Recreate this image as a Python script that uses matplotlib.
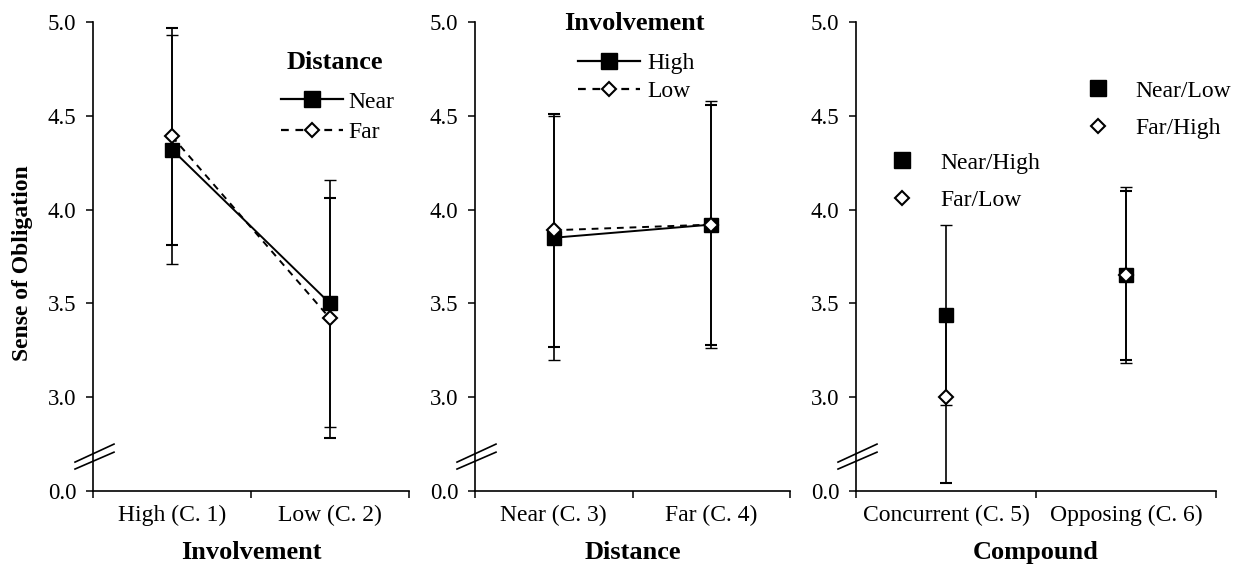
import matplotlib
matplotlib.use("Agg")
import matplotlib.pyplot as plt
from matplotlib.lines import Line2D

plt.rcParams['font.family'] = ['Liberation Serif', 'DejaVu Serif']

# ---------------- data ----------------
p1_categories = ["High (C. 1)", "Low (C. 2)"]
p1_near = [4.32, 3.50]
p1_near_err = [0.61, 0.66]
p1_far = [4.39, 3.42]
p1_far_err = [0.58, 0.64]

p2_categories = ["Near (C. 3)", "Far (C. 4)"]
p2_high = [3.85, 3.92]
p2_high_err = [0.65, 0.66]
p2_low = [3.89, 3.92]
p2_low_err = [0.62, 0.64]

p3_categories = ["Concurrent (C. 5)", "Opposing (C. 6)"]
p3_square = [3.44, 3.65]       # Near/High, Near/Low
p3_square_err = [0.48, 0.47]
p3_diamond = [3.00, 3.65]      # Far/Low, Far/High
p3_diamond_err = [0.46, 0.45]

ytick_values = [2.5, 3.0, 3.5, 4.0, 4.5, 5.0]
ytick_labels = ["0.0", "3.0", "3.5", "4.0", "4.5", "5.0"]

# ---------------- style ----------------
W, H = 1237, 565
fig = plt.figure(figsize=(W / 100, H / 100), dpi=100)

REG = 17
YT = 16.5
BOLD = 19
sq_kw = dict(marker='s', markersize=10.5, markerfacecolor='black',
             markeredgecolor='black', markeredgewidth=1.0)
dm_kw = dict(marker='D', markersize=7.0, markerfacecolor='white',
             markeredgecolor='black', markeredgewidth=1.5)
sq_leg = dict(sq_kw, markersize=11.5)
dm_leg = dict(dm_kw, markersize=7.0)
err_kw = dict(ecolor='black', elinewidth=1.2, capsize=4.3, capthick=1.2)
DASH = (0, (3.5, 3))

axes_px = [(93, 316), (475, 315), (856, 360)]
top_px, bot_px = 22, 491


def make_ax(left, width):
    ax = fig.add_axes([left / W, 1 - bot_px / H, width / W, (bot_px - top_px) / H])
    for s in ['top', 'right']:
        ax.spines[s].set_visible(False)
    for s in ['left', 'bottom']:
        ax.spines[s].set_linewidth(1.2)
    ax.set_ylim(2.5, 5.0)
    ax.set_xlim(0, 2)
    ax.set_yticks(ytick_values)
    ax.set_yticklabels(ytick_labels, fontsize=YT)
    ax.tick_params(axis='y', direction='out', length=5, width=1.1, pad=7)
    ax.set_xticks([0, 1, 2])
    ax.set_xticklabels([])
    ax.tick_params(axis='x', which='major', direction='out', length=5, width=1.1)
    ax.set_xticks([0.5, 1.5], minor=True)
    ax.tick_params(axis='x', which='minor', length=0, pad=10, labelsize=REG)
    # axis break marks
    for y0, y1 in [(2.617, 2.707), (2.654, 2.75)]:
        ax.plot([-18 / width, 21 / width], [y0, y1], color='black', lw=1.2,
                transform=ax.get_yaxis_transform(), clip_on=False, zorder=5)
    return ax


def legend(ax, handles, labels, anchor, hl, tp, ls):
    return ax.legend(handles, labels, loc='center left', bbox_to_anchor=anchor,
                     frameon=False, fontsize=REG, handlelength=hl,
                     handletextpad=tp, labelspacing=ls, borderpad=0,
                     borderaxespad=0)


xpos = [0.5, 1.5]
h_lines = [Line2D([], [], color='black', lw=1.6, ls='-', **sq_leg),
           Line2D([], [], color='black', lw=1.6, ls=DASH, **dm_leg)]
h_marks = [Line2D([], [], ls='none', **sq_leg), Line2D([], [], ls='none', **dm_leg)]

# Panel 1
ax1 = make_ax(*axes_px[0])
ax1.set_xticklabels(p1_categories, minor=True)
ax1.errorbar(xpos, p1_near, yerr=p1_near_err, color='black', lw=1.4, ls='-',
             **sq_kw, **err_kw)
ax1.errorbar(xpos, p1_far, yerr=p1_far_err, color='black', lw=1.4, ls=DASH,
             **dm_kw, **err_kw)
ax1.set_ylabel("Sense of Obligation", fontsize=17, fontweight='bold')
ax1.yaxis.set_label_coords(-0.19, 0.486)
ax1.set_xlabel("Involvement", fontsize=BOLD, fontweight='bold', labelpad=11)
legend(ax1, h_lines, ['Near', 'Far'], (0.595, 0.797), 2.63, 0.22, 0.38)
ax1.text(0.766, 0.9126, "Distance", transform=ax1.transAxes, ha='center',
         va='center', fontsize=BOLD, fontweight='bold')

# Panel 2
ax2 = make_ax(*axes_px[1])
ax2.set_xticklabels(p2_categories, minor=True)
ax2.errorbar(xpos, p2_high, yerr=p2_high_err, color='black', lw=1.4, ls='-',
             **sq_kw, **err_kw)
ax2.errorbar(xpos, p2_low, yerr=p2_low_err, color='black', lw=1.4, ls=DASH,
             **dm_kw, **err_kw)
ax2.set_xlabel("Distance", fontsize=BOLD, fontweight='bold', labelpad=11)
legend(ax2, h_lines, ['High', 'Low'], (0.327, 0.882), 2.63, 0.3, 0.26)
ax2.text(0.506, 0.996, "Involvement", transform=ax2.transAxes, ha='center',
         va='center', fontsize=BOLD, fontweight='bold')

# Panel 3
ax3 = make_ax(*axes_px[2])
ax3.set_xticklabels(p3_categories, minor=True)
ax3.errorbar(xpos, p3_square, yerr=p3_square_err, color='black', ls='none',
             **sq_kw, **err_kw)
ax3.errorbar(xpos, p3_diamond, yerr=p3_diamond_err, color='black', ls='none',
             **dm_kw, **err_kw)
ax3.set_xlabel("Compound", fontsize=BOLD, fontweight='bold', labelpad=11)
l3a = legend(ax3, h_marks, ['Near/High', 'Far/Low'], (0.0944, 0.66), 1.0, 1.12, 0.66)
ax3.add_artist(l3a)
legend(ax3, h_marks, ['Near/Low', 'Far/High'], (0.639, 0.8135), 1.0, 1.08, 0.66)

fig.savefig("out.png", dpi=100)
